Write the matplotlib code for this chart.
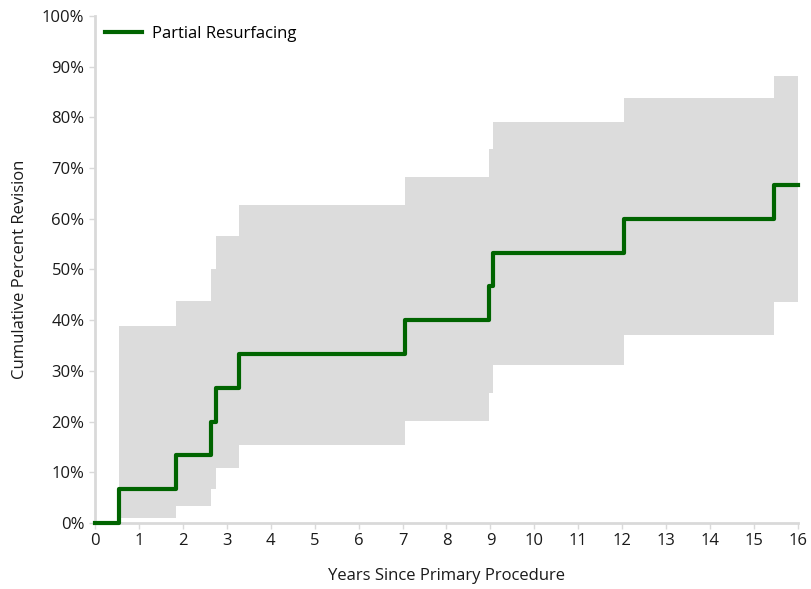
import matplotlib
matplotlib.use('agg')
import matplotlib.pyplot as plt
from matplotlib.ticker import PercentFormatter

# Kaplan-Meier cumulative revision with 95% CI
TIMES = [0, 0.55, 1.85, 2.65, 2.75, 3.27, 7.05, 8.97, 9.05, 12.05, 15.45, 16]
REVISION = [0, 6.67, 13.33, 20.0, 26.67, 33.33, 40.0, 46.67, 53.33, 60.0, 66.67, 66.67]
CI_TIMES = [0.55, 1.85, 2.65, 2.75, 3.27, 7.05, 8.97, 9.05, 12.05, 15.45, 16]
CI_UPPER = [38.9, 43.8, 50.1, 56.6, 62.7, 68.3, 73.8, 79.0, 83.8, 88.2, 88.2]
CI_LOWER = [1.0, 3.4, 6.7, 10.9, 15.4, 20.2, 25.6, 31.2, 37.1, 43.6, 43.6]
SERIES = 'Partial Resurfacing'

plt.rcParams['font.family'] = ['Open Sans', 'DejaVu Sans']
FS = 12

fig = plt.figure(figsize=(8.11, 5.89), dpi=100)
ax = fig.add_axes([0.117, 0.112, 0.867, 0.861])

ax.fill_between(CI_TIMES, CI_LOWER, CI_UPPER, step='post',
                color='#dcdcdc', linewidth=0)
ax.step(TIMES, REVISION, where='post', color='#006400', linewidth=3,
        label=SERIES, zorder=4, clip_on=False)

ax.set_xlim(0, 16)
ax.set_ylim(0, 100)
ax.set_xticks(range(0, 17))
ax.set_yticks(range(0, 101, 10))
ax.yaxis.set_major_formatter(PercentFormatter(decimals=0))

for side in ['top', 'right']:
    ax.spines[side].set_visible(False)
for side in ['left', 'bottom']:
    ax.spines[side].set_color('#d9d9d9')
    ax.spines[side].set_linewidth(2)
ax.tick_params(colors='#d9d9d9', labelcolor='#1a1a1a', labelsize=FS,
               length=4, width=1)

ax.set_xlabel('Years Since Primary Procedure', fontsize=FS, color='#1a1a1a',
              labelpad=13)
ax.set_ylabel('Cumulative Percent Revision', fontsize=FS, color='#1a1a1a',
              labelpad=10)

ax.legend(loc='upper left', frameon=False, fontsize=FS, handlelength=2.2,
          handletextpad=0.6, borderaxespad=0.2, bbox_to_anchor=(0.0, 1.0))

fig.savefig('out.png', dpi=100)
